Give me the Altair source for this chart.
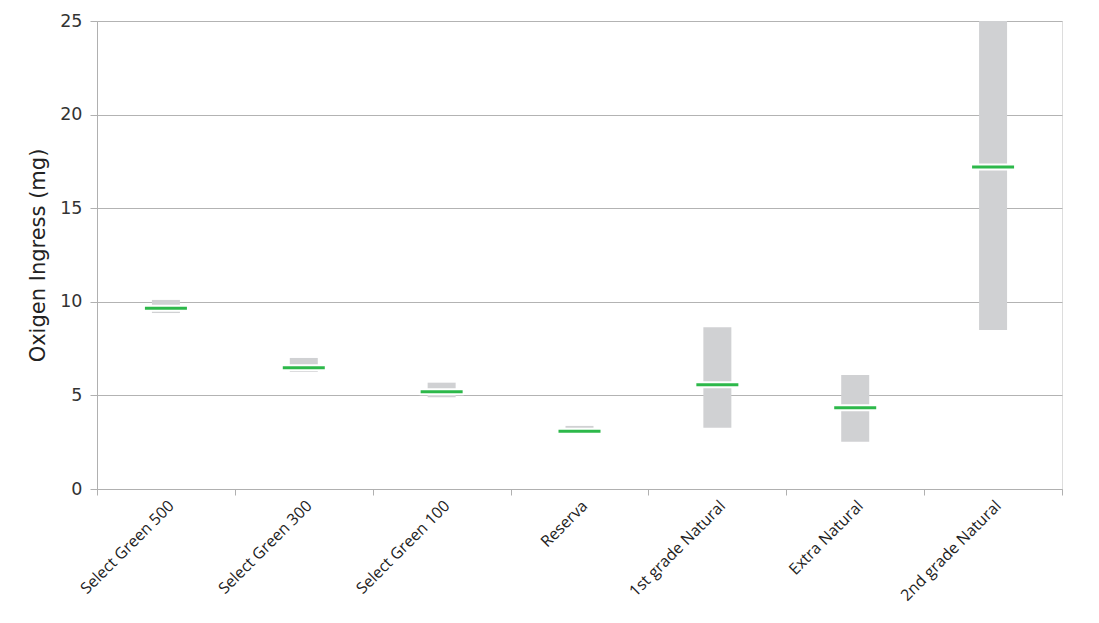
import altair as alt
import pandas as pd

categories = ["Select Green 500", "Select Green 300", "Select Green 100", "Reserva",
              "1st grade Natural", "Extra Natural", "2nd grade Natural"]
mins = [9.4, 6.25, 4.9, 3.0, 3.27, 2.53, 8.5]
maxs = [10.1, 7.0, 5.68, 3.37, 8.64, 6.09, 25.0]
medians = [9.65, 6.48, 5.2, 3.08, 5.57, 4.34, 17.2]

df = pd.DataFrame({"cat": categories, "lo": mins, "hi": maxs, "med": medians})

xenc = alt.X("cat:N", sort=categories, title=None,
             scale=alt.Scale(paddingInner=0, paddingOuter=0),
             axis=alt.Axis(labelAngle=-45, labelFont="Open Sans", labelFontSize=15.8,
                           labelColor="#222", domainColor="#b0b0b0", tickColor="#b0b0b0",
                           tickBand="extent", tickSize=6, labelPadding=3, grid=False))

bars = alt.Chart(df).mark_bar(color="#d0d1d3", size=28).encode(
    x=xenc,
    y=alt.Y("lo:Q", title="Oxigen Ingress (mg)",
            scale=alt.Scale(domain=[0, 25], nice=False),
            axis=alt.Axis(values=[0, 5, 10, 15, 20, 25], labelFont="DejaVu Sans", labelFontSize=17.5,
                          labelColor="#333", titleFont="DejaVu Sans", titleFontSize=21,
                          titleFontWeight="normal", titleColor="#222", titlePadding=11,
                          gridColor="#b3b3b3", domainColor="#b0b0b0", tickColor="#b0b0b0",
                          tickSize=7, labelPadding=8)),
    y2="hi:Q",
)

halo = alt.Chart(df).mark_tick(color="white", size=44, thickness=7, opacity=1).encode(
    x=alt.X("cat:N", sort=categories), y="med:Q")
med = alt.Chart(df).mark_tick(color="#2db84a", size=42, thickness=3, opacity=1).encode(
    x=alt.X("cat:N", sort=categories), y="med:Q")

chart = alt.layer(bars, halo, med).properties(
    width=965, height=468,
    autosize=alt.AutoSizeParams(type="none"),
    padding={"left": 89, "top": 13, "right": 20, "bottom": 120},
).configure_view(stroke=None).configure(background="white")

chart.save("out.html", embed_options={"renderer": "svg", "actions": False})
